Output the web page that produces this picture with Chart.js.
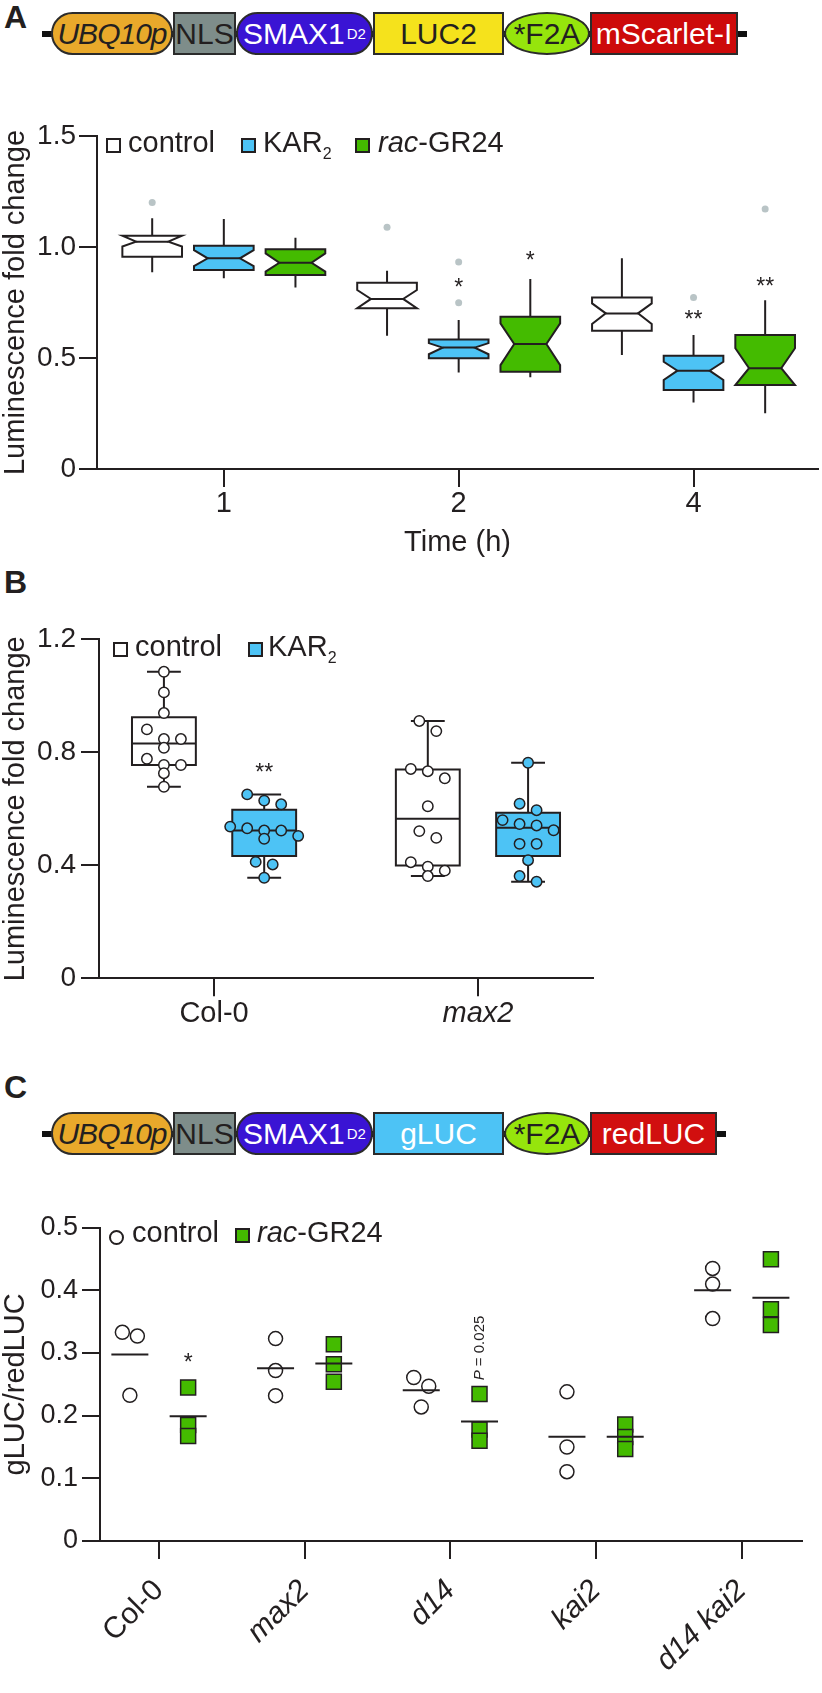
<!DOCTYPE html>
<html>
<head>
<meta charset="utf-8">
<script src="https://cdn.jsdelivr.net/npm/chart.js@4.4.1/dist/chart.umd.min.js"></script>
<style>
  body { margin: 0; background: #fff; }
  #page { position: relative; width: 822px; height: 1693px; overflow: hidden;
          font-family: 'Liberation Sans', Arial, sans-serif; color: #231f20; }
  canvas { position: absolute; left: 0; }
  .letter { position: absolute; left: 4px; font-weight: bold; font-size: 32px; line-height: 32px; }
  .part { position: absolute; box-sizing: border-box; border: 2px solid #2b2b2b; height: 43px;
          display: flex; align-items: center; justify-content: center; font-size: 30px; white-space: nowrap; }
  .part sub { font-size: 15px; vertical-align: -12px; line-height: 0; margin-left: 2px; }
  .backbone { position: absolute; height: 6px; background: #111; }
  .lg { position: absolute; font-size: 29px; line-height: 29px; white-space: nowrap; }
  .lg sub { font-size: 16px; vertical-align: -7px; line-height: 0; }
  .sw { position: absolute; box-sizing: border-box; width: 15px; height: 15px; border: 2px solid #231f20; }
</style>
</head>
<body>
<div id="page">
  <div class="letter" style="top:1px">A</div>
  <div class="letter" style="top:566px">B</div>
  <div class="letter" style="top:1071px">C</div>
  <canvas id="chartA" width="822" height="470" style="top:100px"></canvas>
  <canvas id="chartB" width="600" height="440" style="top:600px"></canvas>
  <canvas id="chartC" width="822" height="513" style="top:1180px"></canvas>
</div>
<script>
// ---- data: panel A (five-number summaries per time point: low whisker, Q1, median, Q3, high whisker)
const timeLabels = ['1', '2', '4'];
const aControlBox = [[0.886, 0.956, 1.024, 1.051, 1.129], [0.600, 0.724, 0.766, 0.839, 0.893], [0.514, 0.623, 0.701, 0.773, 0.949]];
const aKarBox = [[0.859, 0.896, 0.949, 1.006, 1.126], [0.435, 0.499, 0.547, 0.583, 0.671], [0.299, 0.356, 0.443, 0.510, 0.604]];
const aGr24Box = [[0.818, 0.874, 0.929, 0.990, 1.042], [0.413, 0.438, 0.563, 0.686, 0.856], [0.251, 0.378, 0.454, 0.604, 0.760]];
const aControlNotch = [[1.002, 1.051], [0.724, 0.806], [0.653, 0.746]];
const aKarNotch = [[0.914, 0.986], [0.517, 0.567], [0.401, 0.483]];
const aGr24Notch = [[0.889, 0.971], [0.468, 0.656], [0.378, 0.544]];
const aControlOutliers = [[1.200], [1.089], []];
const aKarOutliers = [[], [0.932, 0.749], [0.773]];
const aGr24Outliers = [[], [], [1.171]];
const aKarStars = ['', '*', '**'];
const aKarStarAt = [null, 0.842, 0.698];
const aGr24Stars = ['', '*', '**'];
const aGr24StarAt = [null, 0.964, 0.847];
const aYTicks = [0, 0.5, 1.0, 1.5];
const aYLabels = ['0', '0.5', '1.0', '1.5'];

// ---- data: panel B (individual values)
const bLabels = ['Col-0', 'max2'];
const bItalic = [false, true];
const bControl = [
  [1.085, 1.012, 0.939, 0.881, 0.847, 0.847, 0.816, 0.777, 0.755, 0.755, 0.726, 0.678],
  [0.911, 0.875, 0.741, 0.733, 0.708, 0.609, 0.521, 0.497, 0.411, 0.395, 0.381, 0.362]
];
const bKar = [
  [0.651, 0.629, 0.616, 0.537, 0.531, 0.523, 0.523, 0.504, 0.494, 0.412, 0.403, 0.356],
  [0.763, 0.618, 0.595, 0.560, 0.546, 0.541, 0.524, 0.476, 0.476, 0.418, 0.362, 0.342]
];
const bKarStars = ['**', ''];
const bKarStarAt = [0.749, null];
const bYTicks = [0, 0.4, 0.8, 1.2];
const bYLabels = ['0', '0.4', '0.8', '1.2'];

// ---- data: panel C
const cLabels = ['Col-0', 'max2', 'd14', 'kai2', 'd14 kai2'];
const cItalic = [false, true, true, true, true];
const cControl = [[0.333, 0.327, 0.2325], [0.323, 0.272, 0.232], [0.261, 0.247, 0.214], [0.238, 0.150, 0.1106], [0.435, 0.410, 0.355]];
const cGr24 = [[0.245, 0.185, 0.1675], [0.314, 0.282, 0.254], [0.2346, 0.178, 0.160], [0.186, 0.166, 0.1468], [0.4495, 0.370, 0.3447]];
const cGr24Notes = ['*', '', 'P = 0.025', '', ''];
const cGr24NoteAt = [0.294, null, 0.308, null, null];
const cYTicks = [0, 0.1, 0.2, 0.3, 0.4, 0.5];
const cYLabels = ['0', '0.1', '0.2', '0.3', '0.4', '0.5'];

// ---- styles
const INK = '#231f20';
const BLUE = '#4dc3f5';
const GREEN = '#44bb00';
const GREY_DOT = '#b9c4c6';
const FONT = "'Liberation Sans', Arial, sans-serif";
Chart.defaults.font.family = FONT;
Chart.defaults.color = INK;

const page = document.getElementById('page');

// ---- construct diagrams (HTML)
function construct(top, parts, lineEnd) {
  const bb = document.createElement('div');
  bb.className = 'backbone';
  bb.style.cssText = `left:42px;width:${lineEnd - 42}px;top:${top + 19}px`;
  page.appendChild(bb);
  parts.forEach(p => {
    const d = document.createElement('div');
    d.className = 'part';
    d.style.left = p.left + 'px';
    d.style.width = p.width + 'px';
    d.style.top = top + 'px';
    d.style.background = p.bg;
    d.style.color = p.fg || INK;
    if (p.shape === 'pill') d.style.borderRadius = '22px';
    if (p.shape === 'oval') d.style.borderRadius = '50%';
    if (p.italic) d.style.fontStyle = 'italic';
    d.innerHTML = p.html;
    page.appendChild(d);
  });
}
const head = [
  { html: '<span style="letter-spacing:-1px">UBQ10p</span>', left: 51, width: 122, shape: 'pill', bg: '#e9a92b', italic: true },
  { html: 'NLS', left: 173, width: 63, bg: '#7e8d8a' },
  { html: 'SMAX1<sub>D2</sub>', left: 236, width: 137, shape: 'pill', bg: '#3a14d4', fg: '#fff' }
];
construct(12, head.concat([
  { html: 'LUC2', left: 373, width: 131, bg: '#f5e21c' },
  { html: '*F2A', left: 504, width: 86, shape: 'oval', bg: '#96e50c' },
  { html: 'mScarlet-I', left: 590, width: 148, bg: '#cd0a0a', fg: '#fff' }
]), 747);
construct(1112, head.concat([
  { html: 'gLUC', left: 373, width: 131, bg: BLUE, fg: '#fff' },
  { html: '*F2A', left: 504, width: 86, shape: 'oval', bg: '#96e50c' },
  { html: 'redLUC', left: 590, width: 127, bg: '#d10f0f', fg: '#fff' }
]), 726);

// ---- legends (HTML)
function lgText(x, baseline, html) {
  const s = document.createElement('div');
  s.className = 'lg';
  s.style.left = x + 'px';
  s.style.top = (baseline - 0.8465 * 29) + 'px';
  s.innerHTML = html;
  page.appendChild(s);
}
function lgSwatch(x, y, fill, round) {
  const s = document.createElement('div');
  s.className = 'sw';
  s.style.left = x + 'px';
  s.style.top = y + 'px';
  s.style.background = fill;
  if (round) s.style.borderRadius = '50%';
  page.appendChild(s);
}
lgSwatch(106, 138, '#fff'); lgText(128, 153, 'control');
lgSwatch(241, 138, BLUE); lgText(263, 153, 'KAR<sub>2</sub>');
lgSwatch(355, 138, GREEN); lgText(378, 153, '<i>rac</i>-GR24');
lgSwatch(113, 642, '#fff'); lgText(135, 657, 'control');
lgSwatch(248, 642, BLUE); lgText(268, 657, 'KAR<sub>2</sub>');
lgSwatch(109, 1230, '#fff', true); lgText(132, 1243, 'control');
lgSwatch(235, 1228, GREEN); lgText(257, 1243, '<i>rac</i>-GR24');

// ---- helpers
function quartiles(vals) {
  const s = [...vals].sort((a, b) => a - b), n = s.length;
  const at = i => s[Math.max(0, Math.min(n - 1, i))];
  const q = p => { const pos = p * (n + 1) - 1, i = Math.floor(pos); return at(i) + (pos - i) * (at(i + 1) - at(i)); };
  return [s[0], q(0.25), q(0.5), q(0.75), s[n - 1]];
}
const mean = v => v.reduce((a, b) => a + b, 0) / v.length;

function boxPlugin(items) {
  return {
    id: 'boxes',
    beforeDatasetsDraw(chart) {
      const { ctx, scales: { x, y } } = chart;
      ctx.save();
      ctx.lineWidth = 2;
      ctx.strokeStyle = INK;
      items.forEach(b => {
        const [lo, q1, med, q3, hi] = b.stats;
        const l = x.getPixelForValue(b.x - b.w / 2), r = x.getPixelForValue(b.x + b.w / 2), c = x.getPixelForValue(b.x);
        const yLo = y.getPixelForValue(lo), yQ1 = y.getPixelForValue(q1), yMed = y.getPixelForValue(med);
        const yQ3 = y.getPixelForValue(q3), yHi = y.getPixelForValue(hi);
        ctx.beginPath();
        ctx.moveTo(c, yQ3); ctx.lineTo(c, yHi);
        ctx.moveTo(c, yQ1); ctx.lineTo(c, yLo);
        if (b.cap) {
          const cw = (r - l) * b.cap / 2;
          ctx.moveTo(c - cw, yHi); ctx.lineTo(c + cw, yHi);
          ctx.moveTo(c - cw, yLo); ctx.lineTo(c + cw, yLo);
        }
        ctx.stroke();
        ctx.beginPath();
        let ind = 0;
        if (b.notch) {
          const nHi = y.getPixelForValue(Math.min(b.notch[1], q3));
          const nLo = y.getPixelForValue(Math.max(b.notch[0], q1));
          ind = (r - l) * 0.23;
          ctx.moveTo(l, yQ3); ctx.lineTo(r, yQ3); ctx.lineTo(r, nHi); ctx.lineTo(r - ind, yMed);
          ctx.lineTo(r, nLo); ctx.lineTo(r, yQ1); ctx.lineTo(l, yQ1); ctx.lineTo(l, nLo);
          ctx.lineTo(l + ind, yMed); ctx.lineTo(l, nHi); ctx.closePath();
        } else {
          ctx.rect(l, yQ3, r - l, yQ1 - yQ3);
        }
        ctx.fillStyle = b.fill;
        ctx.fill();
        ctx.stroke();
        ctx.beginPath();
        ctx.moveTo(l + ind, yMed); ctx.lineTo(r - ind, yMed);
        ctx.stroke();
      });
      ctx.restore();
    }
  };
}

function notePlugin(items) {
  return {
    id: 'notes',
    afterDatasetsDraw(chart) {
      const { ctx, scales: { x, y } } = chart;
      items.forEach(t => {
        ctx.save();
        ctx.fillStyle = INK;
        ctx.translate(x.getPixelForValue(t.x), y.getPixelForValue(t.y));
        if (t.text.startsWith('P')) {
          ctx.rotate(-Math.PI / 2);
          ctx.textBaseline = 'middle';
          ctx.textAlign = 'left';
          ctx.font = 'italic 15px ' + FONT;
          const w1 = ctx.measureText('P').width;
          ctx.font = '15px ' + FONT;
          const rest = t.text.slice(1), w2 = ctx.measureText(rest).width;
          ctx.font = 'italic 15px ' + FONT;
          ctx.fillText('P', -(w1 + w2) / 2, 0);
          ctx.font = '15px ' + FONT;
          ctx.fillText(rest, -(w1 + w2) / 2 + w1, 0);
        } else {
          ctx.font = '23px ' + FONT;
          ctx.textAlign = 'center';
          ctx.textBaseline = 'alphabetic';
          ctx.fillText(t.text, 0, 13);
        }
        ctx.restore();
      });
    }
  };
}

// spread overlapping points of a group side by side (beeswarm rows)
function swarmPlugin(spacing, rowGap) {
  return {
    id: 'swarm',
    afterDatasetsUpdate(chart) {
      chart.data.datasets.forEach((ds, i) => {
        if (!ds.swarm) return;
        const meta = chart.getDatasetMeta(i);
        const groups = {};
        meta.data.forEach((el, j) => { (groups[ds.data[j].x] = groups[ds.data[j].x] || []).push(el); });
        Object.values(groups).forEach(els => {
          els.sort((a, b) => a.y - b.y);
          const rows = [];
          let row = [];
          els.forEach(el => {
            if (row.length && el.y - row[0].y >= rowGap) { rows.push(row); row = []; }
            row.push(el);
          });
          if (row.length) rows.push(row);
          rows.forEach(r => r.forEach((el, k) => { el.x += (k - (r.length - 1) / 2) * spacing; }));
        });
      });
    }
  };
}

function yScale(min, max, ticks, labels, title, width, pad, size) {
  return {
    type: 'linear', min, max,
    afterFit: s => { s.width = width; },
    afterBuildTicks: s => { s.ticks = ticks.map(v => ({ value: v })); },
    ticks: { callback: (v, i) => labels[i], font: { size }, color: INK, padding: pad },
    grid: { drawOnChartArea: false, color: INK, lineWidth: 2, tickLength: 18 },
    border: { color: INK, width: 2 },
    title: { display: true, text: title, color: INK, font: { size: 29, lineHeight: 1 }, padding: { top: 1, bottom: 0 } }
  };
}
function xScale(min, max, labels, italic, height, rotation, size, pad, title) {
  return {
    type: 'linear', min, max,
    afterFit: s => { s.height = height; },
    afterBuildTicks: s => { s.ticks = labels.map((l, i) => ({ value: i })); },
    ticks: {
      callback: (v, i) => labels[i], color: INK, padding: pad, autoSkip: false,
      maxRotation: rotation, minRotation: rotation,
      font: c => ({ size, family: FONT, style: italic && italic[c.index] ? 'italic' : 'normal' })
    },
    grid: { drawOnChartArea: false, color: INK, lineWidth: 2, tickLength: 18 },
    border: { color: INK, width: 2 },
    title: title
      ? { display: true, text: title, color: INK, font: { size: 29 }, padding: { top: 0, bottom: 10 } }
      : { display: false }
  };
}
const baseOpts = { responsive: false, animation: false, events: [], plugins: { legend: { display: false }, tooltip: { enabled: false } } };

// ---- panel A
const aOff = [-0.305, 0, 0.305], aW = 0.254;
const aSeries = [
  { box: aControlBox, notch: aControlNotch, out: aControlOutliers, fill: '#fff' },
  { box: aKarBox, notch: aKarNotch, out: aKarOutliers, fill: BLUE },
  { box: aGr24Box, notch: aGr24Notch, out: aGr24Outliers, fill: GREEN }
];
const aBoxes = [];
aSeries.forEach((s, k) => s.box.forEach((st, i) => aBoxes.push({ x: i + aOff[k], w: aW, stats: st, notch: s.notch[i], fill: s.fill })));
const aNotes = [];
aKarStars.forEach((t, i) => { if (t) aNotes.push({ x: i + aOff[1], y: aKarStarAt[i], text: t }); });
aGr24Stars.forEach((t, i) => { if (t) aNotes.push({ x: i + aOff[2], y: aGr24StarAt[i], text: t }); });

new Chart(document.getElementById('chartA'), {
  type: 'scatter',
  data: {
    datasets: aSeries.map((s, k) => ({
      label: ['control', 'KAR2', 'rac-GR24'][k],
      data: s.out.flatMap((v, i) => v.map(y => ({ x: i + aOff[k], y }))),
      pointRadius: 3.5, pointBackgroundColor: GREY_DOT, pointBorderWidth: 0
    }))
  },
  options: Object.assign({}, baseOpts, {
    layout: { padding: { top: 36, right: 2, left: 0, bottom: 0 } },
    scales: {
      x: xScale(-0.54, 2.53, timeLabels, null, 101, 0, 29, 0, 'Time (h)'),
      y: yScale(0, 1.5, aYTicks, aYLabels, 'Luminescence fold change', 97, 3, 28)
    }
  }),
  plugins: [boxPlugin(aBoxes), notePlugin(aNotes)]
});

// ---- panel B
const bOff = [-0.19, 0.19], bW = 0.242;
const bBoxes = [];
bControl.forEach((v, i) => bBoxes.push({ x: i + bOff[0], w: bW, stats: quartiles(v), fill: '#fff', cap: 0.53 }));
bKar.forEach((v, i) => bBoxes.push({ x: i + bOff[1], w: bW, stats: quartiles(v), fill: BLUE, cap: 0.53 }));
const bNotes = [];
bKarStars.forEach((t, i) => { if (t) bNotes.push({ x: i + bOff[1], y: bKarStarAt[i], text: t }); });

new Chart(document.getElementById('chartB'), {
  type: 'scatter',
  data: {
    datasets: [
      { label: 'control', swarm: true, data: bControl.flatMap((v, i) => v.map(y => ({ x: i + bOff[0], y }))),
        pointRadius: 5.2, pointBackgroundColor: '#fff', pointBorderColor: INK, pointBorderWidth: 1.5 },
      { label: 'KAR2', swarm: true, data: bKar.flatMap((v, i) => v.map(y => ({ x: i + bOff[1], y }))),
        pointRadius: 5.2, pointBackgroundColor: BLUE, pointBorderColor: INK, pointBorderWidth: 1.5 }
    ]
  },
  options: Object.assign({}, baseOpts, {
    layout: { padding: { top: 39.3, right: 7, left: 0, bottom: 0 } },
    scales: {
      x: xScale(-0.436, 1.436, bLabels, bItalic, 61.7, 0, 29, 0),
      y: yScale(0, 1.2, bYTicks, bYLabels, 'Luminescence fold change', 99, 5, 28)
    }
  }),
  plugins: [boxPlugin(bBoxes), swarmPlugin(17, 11), notePlugin(bNotes)]
});

// ---- panel C
const cOff = [-0.2, 0.2];
const cNotes = [];
cGr24Notes.forEach((t, i) => { if (t) cNotes.push({ x: i + cOff[1], y: cGr24NoteAt[i], text: t }); });
const meanLine = { pointStyle: 'line', pointRadius: 18.5, pointBorderColor: INK, pointBorderWidth: 2 };

new Chart(document.getElementById('chartC'), {
  type: 'scatter',
  data: {
    datasets: [
      Object.assign({ label: 'control mean', data: cControl.map((v, i) => ({ x: i + cOff[0], y: mean(v) })) }, meanLine),
      Object.assign({ label: 'rac-GR24 mean', data: cGr24.map((v, i) => ({ x: i + cOff[1], y: mean(v) })) }, meanLine),
      { label: 'control', swarm: true, data: cControl.flatMap((v, i) => v.map(y => ({ x: i + cOff[0], y }))),
        pointStyle: 'circle', pointRadius: 7, pointBackgroundColor: '#fff', pointBorderColor: INK, pointBorderWidth: 1.5 },
      { label: 'rac-GR24', data: cGr24.flatMap((v, i) => v.map(y => ({ x: i + cOff[1], y }))),
        pointStyle: 'rect', pointRadius: 10.6, pointBackgroundColor: GREEN, pointBorderColor: INK, pointBorderWidth: 1.5 }
    ]
  },
  options: Object.assign({}, baseOpts, {
    layout: { padding: { top: 47.7, right: 7, left: 0, bottom: 0 } },
    scales: {
      x: xScale(-0.405, 4.41, cLabels, cItalic, 152, 45, 30, 14),
      y: yScale(0, 0.5, cYTicks, cYLabels, 'gLUC/redLUC', 100, 4, 27)
    }
  }),
  plugins: [swarmPlugin(15, 14), notePlugin(cNotes)]
});
</script>
</body>
</html>
